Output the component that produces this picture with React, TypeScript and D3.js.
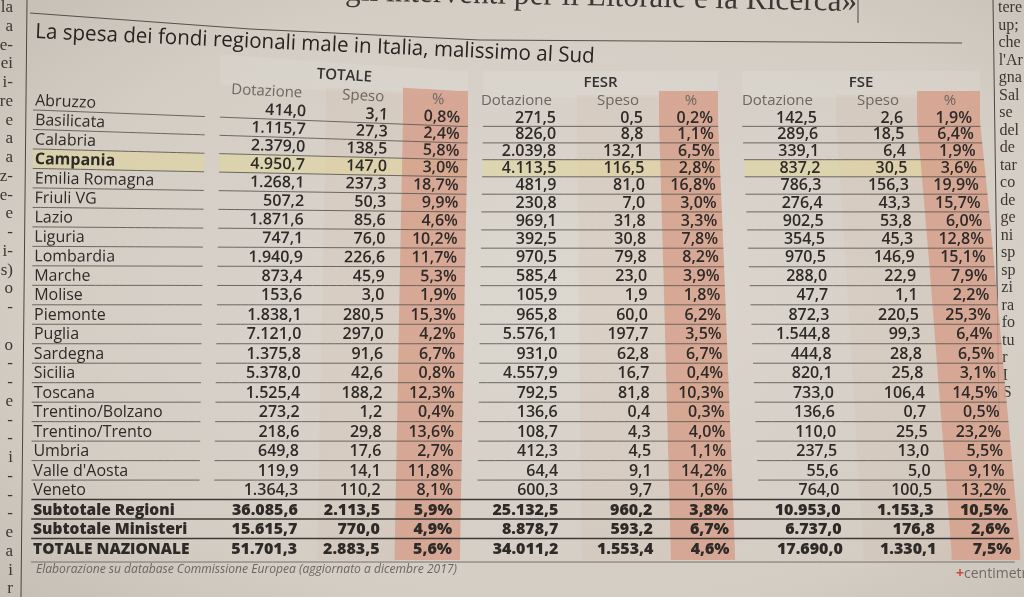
import React from "react";
import * as d3 from "d3";

// righe della tabella
const regioni = [
  "Abruzzo", "Basilicata", "Calabria", "Campania", "Emilia Romagna", "Friuli VG", "Lazio",
  "Liguria", "Lombardia", "Marche", "Molise", "Piemonte", "Puglia", "Sardegna", "Sicilia",
  "Toscana", "Trentino/Bolzano", "Trentino/Trento", "Umbria", "Valle d'Aosta", "Veneto",
];
const totali = ["Subtotale Regioni", "Subtotale Ministeri", "TOTALE NAZIONALE"];
const evidenziata = "Campania";

const gruppi = ["TOTALE", "FESR", "FSE"];
const intestazioni = ["Dotazione", "Speso", "%"];

// milioni di euro
const totDotazione = [414.0, 1115.7, 2379.0, 4950.7, 1268.1, 507.2, 1871.6, 747.1, 1940.9, 873.4, 153.6, 1838.1, 7121.0, 1375.8, 5378.0, 1525.4, 273.2, 218.6, 649.8, 119.9, 1364.3, 36085.6, 15615.7, 51701.3];
const totSpeso = [3.1, 27.3, 138.5, 147.0, 237.3, 50.3, 85.6, 76.0, 226.6, 45.9, 3.0, 280.5, 297.0, 91.6, 42.6, 188.2, 1.2, 29.8, 17.6, 14.1, 110.2, 2113.5, 770.0, 2883.5];
const totPerc = [0.8, 2.4, 5.8, 3.0, 18.7, 9.9, 4.6, 10.2, 11.7, 5.3, 1.9, 15.3, 4.2, 6.7, 0.8, 12.3, 0.4, 13.6, 2.7, 11.8, 8.1, 5.9, 4.9, 5.6];

const fesrDotazione = [271.5, 826.0, 2039.8, 4113.5, 481.9, 230.8, 969.1, 392.5, 970.5, 585.4, 105.9, 965.8, 5576.1, 931.0, 4557.9, 792.5, 136.6, 108.7, 412.3, 64.4, 600.3, 25132.5, 8878.7, 34011.2];
const fesrSpeso = [0.5, 8.8, 132.1, 116.5, 81.0, 7.0, 31.8, 30.8, 79.8, 23.0, 1.9, 60.0, 197.7, 62.8, 16.7, 81.8, 0.4, 4.3, 4.5, 9.1, 9.7, 960.2, 593.2, 1553.4];
const fesrPerc = [0.2, 1.1, 6.5, 2.8, 16.8, 3.0, 3.3, 7.8, 8.2, 3.9, 1.8, 6.2, 3.5, 6.7, 0.4, 10.3, 0.3, 4.0, 1.1, 14.2, 1.6, 3.8, 6.7, 4.6];

const fseDotazione = [142.5, 289.6, 339.1, 837.2, 786.3, 276.4, 902.5, 354.5, 970.5, 288.0, 47.7, 872.3, 1544.8, 444.8, 820.1, 733.0, 136.6, 110.0, 237.5, 55.6, 764.0, 10953.0, 6737.0, 17690.0];
const fseSpeso = [2.6, 18.5, 6.4, 30.5, 156.3, 43.3, 53.8, 45.3, 146.9, 22.9, 1.1, 220.5, 99.3, 28.8, 25.8, 106.4, 0.7, 25.5, 13.0, 5.0, 100.5, 1153.3, 176.8, 1330.1];
const fsePerc = [1.9, 6.4, 1.9, 3.6, 19.9, 15.7, 6.0, 12.8, 15.1, 7.9, 2.2, 25.3, 6.4, 6.5, 3.1, 14.5, 0.5, 23.2, 5.5, 9.1, 13.2, 10.5, 2.6, 7.5];

const serie = [
  [totDotazione, totSpeso, totPerc],
  [fesrDotazione, fesrSpeso, fesrPerc],
  [fseDotazione, fseSpeso, fsePerc],
];

// pezzi degli articoli accanto (colonne tagliate dalla foto)
const colonnaSx = ["la", "a", "e-", "ei", "i-", "re", "e", "a", "a", "z-", "e-", "e", "-", "i-", "s)", "o", "-", "", "o", "-", "-", "e", "-", "-", "i", "-", "-", "-", "e", "a", "i", "r"];
const colonnaDx = ["tere", "up;", "che", "l'Ar", "gna", "Sal", "se", "del", "de", "tar", "co", "de", "ge", "ni", "sp", "sp", "zi", "ra", "fo", "tu", "r", "I", "S"];

const righe = [...regioni, ...totali];

const it = d3.formatLocale({ decimal: ",", thousands: ".", grouping: [3], currency: ["", "€"] });
const fmtNum = it.format(",.1f");
const fmtPct = (v: number) => it.format(".1f")(v) + "%";

// layout (coordinate "piatte", poi deformate come la pagina fotografata)
const colRight = [[306, 388, 460], [556, 643, 713], [817, 903, 972]];
const groupSpan = [[220, 468], [483, 718], [742, 980]];
const pctBand = [[403, 468], [659, 718], [917, 980]];
const spesoBand = [[326, 403], [577, 659], [836, 917]];
const nameSpan = [33, 205];

const yRow = d3.scaleLinear().domain([0, righe.length - 1]).range([105.5, 553.5]);

// la pagina è curva: in alto le righe scendono verso destra, in basso si allarga
const ampY = d3.scaleLinear().domain([35, 460, 1024]).range([0, 18, 18]).clamp(true);
const shiftX = d3.scaleLinear().domain([35, 300, 470, 560, 1000]).range([-2, -9, -8, 3, 42]);
const warp = (x: number, y: number): [number, number] => {
  const v = Math.max(0, Math.min(1, (y - 105) / 448));
  const k = Math.max(0, 1 - (y - 100) / 215);
  return [x + shiftX(x) * v, y + ampY(x) * k * k];
};

const line = d3.line();
const steps = (a: number, b: number, s: number) => d3.range(a, b, a < b ? s : -s).concat([b]);
const hPath = (x0: number, x1: number, y: number) => line(steps(x0, x1, 8).map((x) => warp(x, y))) as string;
const quad = (x0: number, x1: number, y0: number, y1: number) =>
  (line([
    ...steps(x0, x1, 8).map((x) => warp(x, y0)),
    ...steps(y0, y1, 10).map((y) => warp(x1, y)),
    ...steps(x1, x0, 8).map((x) => warp(x, y1)),
    ...steps(y1, y0, 10).map((y) => warp(x0, y)),
  ]) as string) + "Z";

function WText({ x, y, anchor = "start", children, ...rest }: any) {
  const [X, Y] = warp(x, y);
  const x0 = anchor === "end" ? x - 40 : anchor === "middle" ? x - 20 : x;
  const p0 = warp(x0, y);
  const p1 = warp(x0 + 40, y);
  const a = (Math.atan2(p1[1] - p0[1], p1[0] - p0[0]) * 180) / Math.PI;
  return (
    <text x={X} y={Y} textAnchor={anchor} transform={`rotate(${a.toFixed(2)},${X.toFixed(1)},${Y.toFixed(1)})`} {...rest}>
      {children}
    </text>
  );
}

const ink = "#2d2a28";
const sans = "'Open Sans', sans-serif";
const serif = "'Liberation Serif', serif";

export default function App() {
  const nReg = regioni.length;
  const iEv = righe.indexOf(evidenziata);
  const sep = (i: number) => yRow(i) + 4.5;

  return (
    <svg width={1024} height={597} style={{ position: "fixed", left: 0, top: 0, display: "block" }}>
      <defs>
        <radialGradient id="carta" cx="55%" cy="50%" r="75%">
          <stop offset="0%" stopColor="#dcd7cf" />
          <stop offset="70%" stopColor="#d3cdc4" />
          <stop offset="100%" stopColor="#c4beb4" />
        </radialGradient>
      </defs>
      <rect width={1024} height={597} fill="url(#carta)" />

      {/* articoli accanto */}
      <line x1={27} y1={0} x2={21} y2={597} stroke="#4a4642" strokeWidth={1} />
      {colonnaSx.map((t, i) => (
        <text key={i} x={13} y={12 + 18.75 * i} textAnchor="end" fontFamily={serif} fontSize={17} fill="#3a3734">{t}</text>
      ))}
      <line x1={993} y1={0} x2={999} y2={420} stroke="#4a4642" strokeWidth={1} />
      {colonnaDx.map((t, i) => (
        <text key={i} x={998 + 0.012 * (17.55 * i)} y={12 + 17.5 * i} fontFamily={serif} fontSize={16} fill="#3a3734">{t}</text>
      ))}

      {/* titolo dell'articolo sopra, tagliato dalla foto */}
      <text x={857} y={11} textAnchor="end" fontFamily={serif} fontSize={32} fill="#3a3734"
        textLength={512} lengthAdjust="spacingAndGlyphs" transform="rotate(1.2,857,11)">
        gli interventi per il Litorale e la Ricerca»
      </text>
      <line x1={858} y1={0} x2={858} y2={23} stroke="#4a4642" strokeWidth={1} />
      <path d={line([[30, 13], [250, 29], [480, 40], [962, 43]]) as string} fill="none" stroke="#55504b" strokeWidth={1} />

      <text x={35} y={38} fontFamily={sans} fontSize={21} fill="#262321" textLength={560} lengthAdjust="spacingAndGlyphs"
        transform="rotate(2.55,35,38)">
        La spesa dei fondi regionali male in Italia, malissimo al Sud
      </text>

      {/* fasce */}
      {groupSpan.map(([a, b], g) => (
        <path key={"h" + g} d={quad(a, b, 42, 75)} fill="#ffffff" fillOpacity={0.09} />
      ))}
      {spesoBand.map(([a, b], g) => (
        <path key={"s" + g} d={quad(a, b, 72, 560)} fill="#d9a08a" fillOpacity={0.11} />
      ))}
      <path d={quad(nameSpan[0], nameSpan[1], sep(iEv - 1), sep(iEv))} fill="#e6d98a" fillOpacity={0.4} />
      {groupSpan.map(([a, b], g) => (
        <path key={"e" + g} d={quad(a, b, sep(iEv - 1), sep(iEv))} fill="#e6d98a" fillOpacity={0.4} />
      ))}
      {pctBand.map(([a, b], g) => (
        <path key={"p" + g} d={quad(a, b, 67, 560)} fill="#d6a08b" fillOpacity={0.85} />
      ))}

      {/* linee */}
      {d3.range(nReg - 1).map((i) => (
        <g key={"l" + i} fill="none" stroke="#5f5a55" strokeWidth={0.9}>
          <path d={hPath(nameSpan[0], nameSpan[1], sep(i))} />
          {groupSpan.map(([a, b], g) => <path key={g} d={hPath(a, b, sep(i))} />)}
        </g>
      ))}
      {d3.range(nReg - 1, righe.length - 1).map((i) => (
        <path key={"b" + i} d={hPath(33, 975, sep(i))} fill="none" stroke="#3c3835" strokeWidth={1.6} />
      ))}
      <path d={hPath(33, 975, 562)} fill="none" stroke="#77716b" strokeWidth={1} />

      {/* intestazioni */}
      {gruppi.map((gr, g) => (
        <WText key={gr} x={(groupSpan[g][0] + groupSpan[g][1]) / 2} y={62} anchor="middle"
          fontFamily={sans} fontSize={15} fontWeight={600} fill="#35312e">{gr}</WText>
      ))}
      {gruppi.map((gr, g) =>
        intestazioni.map((h, c) => (
          <WText key={gr + h} x={c === 2 ? colRight[g][c] - 22 : colRight[g][c] - 4} y={84.5}
            anchor={c === 2 ? "middle" : "end"} fontFamily={sans} fontSize={15} fill="#6c6762">{h}</WText>
        ))
      )}

      {/* nomi */}
      {righe.map((r, i) => {
        const tot = i >= nReg;
        return (
          <WText key={r} x={35} y={yRow(i)} fontFamily={sans} fontSize={tot ? 15.5 : 16}
            fontWeight={tot ? 800 : r === evidenziata ? 700 : 400} fill={ink}>{r}</WText>
        );
      })}

      {/* valori */}
      {serie.map((cols, g) =>
        cols.map((vals, c) =>
          vals.map((v, i) => (
            <WText key={`${g}-${c}-${i}`} x={colRight[g][c]} y={yRow(i)} anchor="end" fontFamily={sans}
              fontSize={16} fontWeight={i >= nReg ? 800 : 600} fill={ink}>
              {c === 2 ? fmtPct(v) : fmtNum(v)}
            </WText>
          ))
        )
      )}

      <text x={36} y={573} fontFamily={sans} fontSize={13} fontStyle="italic" fill="#6b6661"
        textLength={421} lengthAdjust="spacingAndGlyphs">
        Elaborazione su database Commissione Europea (aggiornato a dicembre 2017)
      </text>
      <text x={956} y={578} fontFamily={sans} fontSize={14} fill="#6f6a66">
        <tspan fill="#d2473a" fontWeight={700}>+</tspan>centimetri
      </text>
    </svg>
  );
}
